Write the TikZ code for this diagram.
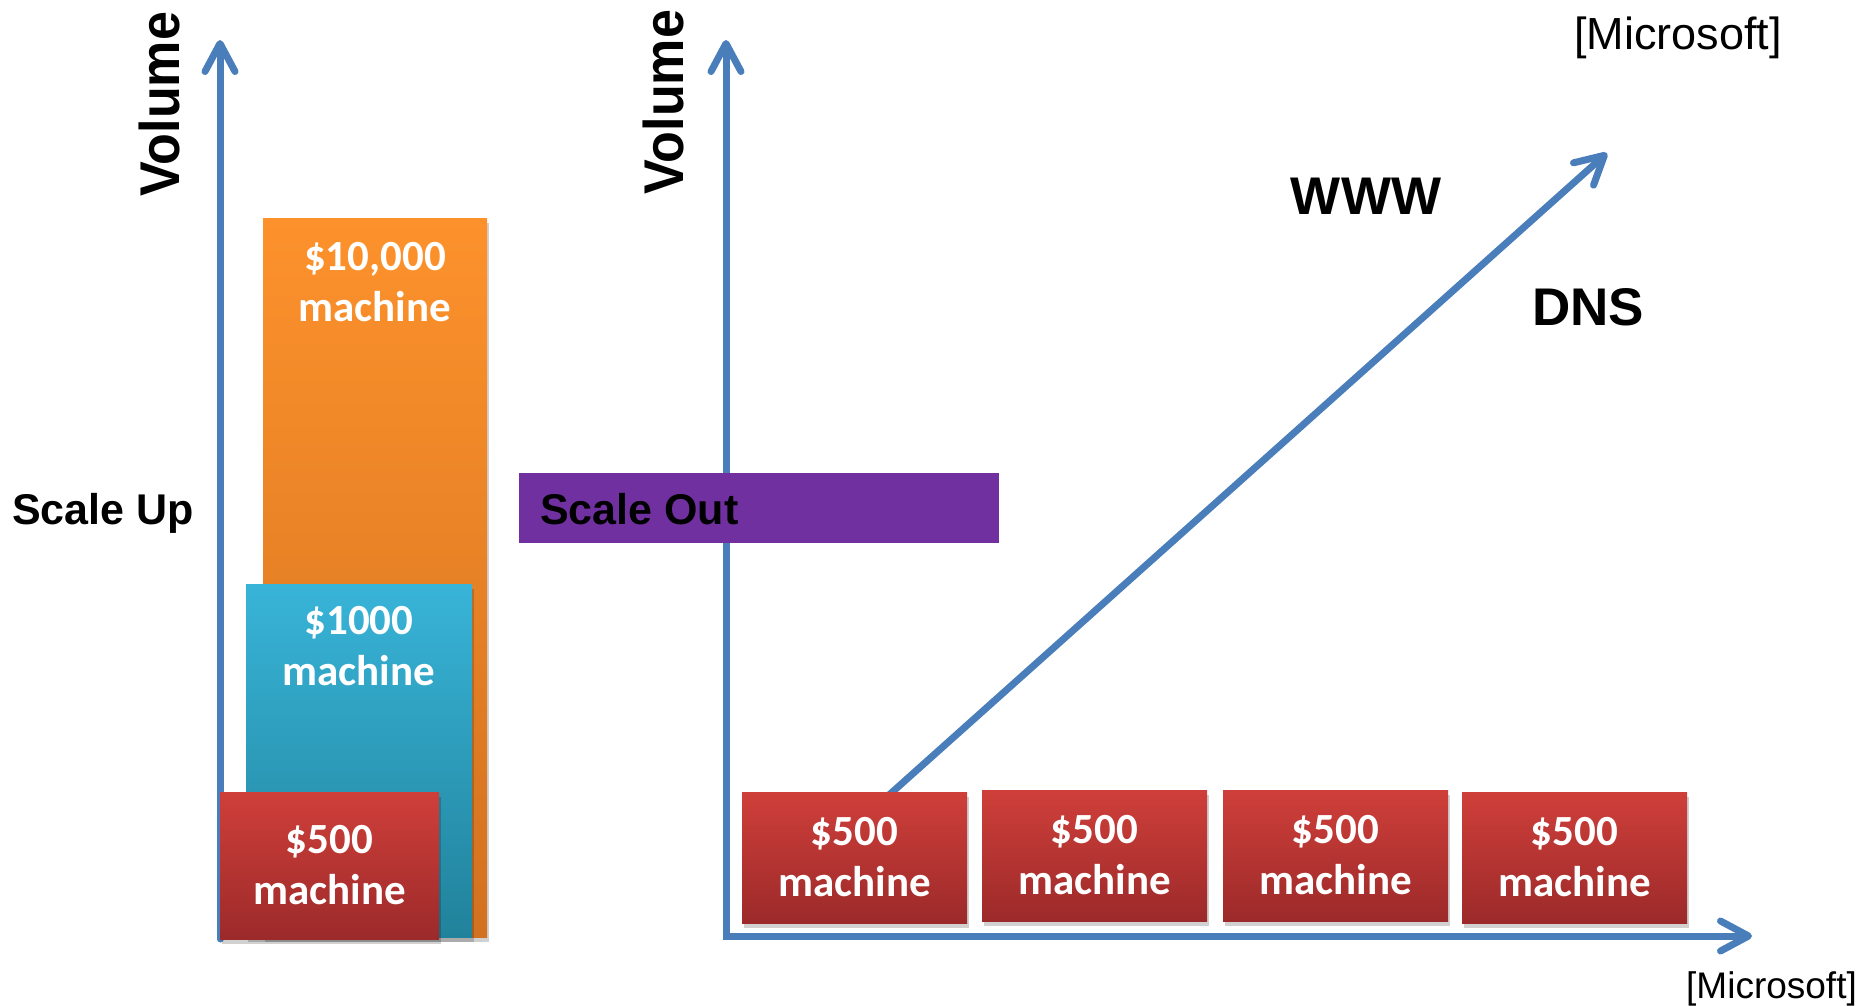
\documentclass[tikz,border=0pt]{standalone}
\usepackage{fontspec}
\usepackage{graphicx}
\setmainfont{Liberation Sans}
\newfontfamily\calib{Carlito}
\usetikzlibrary{arrows.meta,shadows}
\definecolor{axisblue}{RGB}{74,126,187}
\definecolor{orgtop}{RGB}{253,146,44}
\definecolor{orgbot}{RGB}{210,113,32}
\definecolor{cyntop}{RGB}{56,180,216}
\definecolor{cynbot}{RGB}{33,130,155}
\definecolor{redtop}{RGB}{207,63,58}
\definecolor{redbot}{RGB}{156,42,42}
\definecolor{purp}{RGB}{112,48,160}
\tikzset{
  axtip/.tip={Straight Barb[length=28pt,width=30pt,round]},
  axis/.style={draw=axisblue, line width=7pt, line cap=round},
  boxshadow/.style={drop shadow={fill=black, opacity=0.18, shadow xshift=2pt, shadow yshift=-5pt}},
  machbox/.style={inner sep=0pt, boxshadow, text=white, align=center,
    font=\calib\bfseries\fontsize{43}{51}\selectfont},
  redbox/.style={machbox, top color=redtop, bottom color=redbot,
    minimum width=225pt, minimum height=131pt},
  boxtext/.style={inner sep=0pt, text=white, align=center,
    font=\calib\bfseries\fontsize{43}{51}\selectfont},
  bigbold/.style={inner sep=0pt, font=\bfseries\fontsize{43}{50}\selectfont},
  vollabel/.style={inner sep=0pt, rotate=90, anchor=base, font=\bfseries\fontsize{56}{60}\selectfont},
  srclabel/.style={inner sep=0pt, anchor=base east}
}
\begin{document}
\begin{tikzpicture}[x=1pt,y=-1pt]
\useasboundingbox (0,0) rectangle (1864,1005);

% ---------- Scale up ----------
\node[machbox, top color=orgtop, bottom color=orgbot, minimum width=224pt, minimum height=719pt] (orange) at (375,577.5) {};
\node[boxtext] (orangetxt) at (375,282) {\$10,000\\machine};
\node[machbox, top color=cyntop, bottom color=cynbot, minimum width=226pt, minimum height=353pt] (cyan) at (359,760.5) {};
\node[boxtext] (cyantxt) at (359,646) {\$1000\\machine};

\coordinate (lb) at (220,939);
\coordinate (lt) at (220,40);
\draw[axis, -axtip] (lb) -- (lt);

\node[redbox, minimum width=219pt, minimum height=147pt] (lred) at (329.5,865.5) {\$500\\machine};

\node[vollabel] (vol1) at (179,104) {\scalebox{0.93}[1]{Volume}};
\node[bigbold, anchor=base west] (scaleup) at (12,524) {Scale Up};

% ---------- Scale out ----------
\coordinate (rt) at (726,40);
\coordinate (ro) at (726,936);
\coordinate (rr) at (1752,936);
\draw[axis, axtip-axtip, line cap=butt] (rt) -- (ro) -- (rr);

\coordinate (ds) at (889,795);
\coordinate (de) at (1607,153);
\draw[axis, -axtip] (ds) -- (de);

\node[inner sep=0pt, fill=purp, minimum width=480pt, minimum height=70pt] (purple) at (759,508) {};
\node[bigbold, anchor=base west] (scaleout) at (540,524) {Scale Out};

\node[redbox] (r1) at (854.5,857.5) {\$500\\machine};
\node[redbox] (r2) at (1094.5,855.5) {\$500\\machine};
\node[redbox] (r3) at (1335.5,855.5) {\$500\\machine};
\node[redbox] (r4) at (1574.5,857.5) {\$500\\machine};

\node[vollabel] (vol2) at (683,102) {\scalebox{0.93}[1]{Volume}};

\node[inner sep=0pt, font=\bfseries\fontsize{53}{58}\selectfont] (www) at (1366,196) {WWW};
\node[inner sep=0pt, font=\bfseries\fontsize{53}{58}\selectfont] (dns) at (1588,307) {DNS};

\node[srclabel, font=\fontsize{45}{50}\selectfont] (src1) at (1782,49) {[Microsoft]};
\node[srclabel, font=\fontsize{37}{42}\selectfont] (src2) at (1857,998) {[Microsoft]};
\end{tikzpicture}
\end{document}
